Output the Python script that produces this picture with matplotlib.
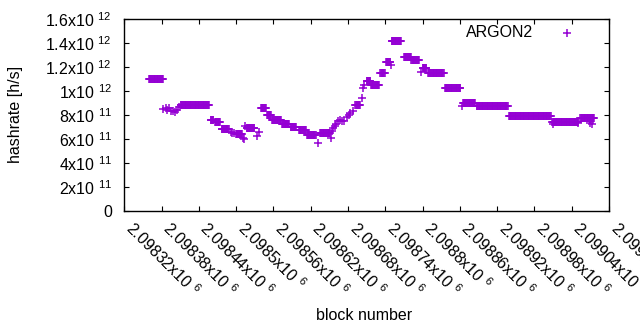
import numpy as np
import matplotlib
matplotlib.use("Agg")
import matplotlib.pyplot as plt
from matplotlib.ticker import FuncFormatter, FixedLocator

plt.rcParams['font.family'] = ['Liberation Sans', 'DejaVu Sans']
plt.rcParams['mathtext.fontset'] = 'custom'
plt.rcParams['mathtext.rm'] = 'Liberation Sans'
plt.rcParams['mathtext.it'] = 'Liberation Sans:italic'
plt.rcParams['mathtext.bf'] = 'Liberation Sans:bold'

# ---- data: runs of blocks with constant hashrate ----
run_start = [2098360, 2098411, 2098459, 2098466, 2098477, 2098500, 2098517, 2098540,
             2098550, 2098558, 2098574, 2098588, 2098601, 2098614, 2098635, 2098692,
             2098710, 2098717, 2098732, 2098741, 2098750, 2098770, 2098782, 2098800,
             2098809, 2098836, 2098865, 2098887, 2098939, 2099009, 2099054]
run_end = [2098382, 2098456, 2098463, 2098474, 2098488, 2098509, 2098529, 2098548,
           2098556, 2098572, 2098585, 2098596, 2098612, 2098628, 2098651, 2098699,
           2098716, 2098730, 2098739, 2098748, 2098765, 2098781, 2098794, 2098806,
           2098834, 2098861, 2098884, 2098937, 2099006, 2099050, 2099076]
run_rate = [1.097e12, 0.880e12, 0.757e12, 0.740e12, 0.678e12, 0.636e12, 0.690e12, 0.861e12,
            0.796e12, 0.753e12, 0.724e12, 0.696e12, 0.672e12, 0.632e12, 0.646e12, 0.885e12,
            1.080e12, 1.049e12, 1.147e12, 1.244e12, 1.419e12, 1.285e12, 1.258e12, 1.190e12,
            1.147e12, 1.020e12, 0.903e12, 0.875e12, 0.788e12, 0.743e12, 0.771e12]

# ---- data: individual scattered blocks ----
stray_block = [2098383, 2098387, 2098389, 2098392, 2098395, 2098398, 2098402, 2098405, 2098408,
               2098491, 2098494, 2098497, 2098511, 2098513, 2098514, 2098534, 2098537,
               2098631, 2098653, 2098655, 2098656, 2098659, 2098660, 2098664, 2098667,
               2098670, 2098674, 2098678, 2098681, 2098684, 2098688, 2098702, 2098704,
               2098706, 2098749, 2098797, 2098864, 2099010, 2099050, 2099069, 2099073]
stray_rate = [0.846e12, 0.855e12, 0.840e12, 0.860e12, 0.830e12, 0.835e12, 0.826e12, 0.840e12, 0.868e12,
              0.660e12, 0.650e12, 0.645e12, 0.610e12, 0.598e12, 0.705e12, 0.626e12, 0.654e12,
              0.568e12, 0.604e12, 0.665e12, 0.688e12, 0.709e12, 0.724e12, 0.745e12, 0.760e12,
              0.750e12, 0.745e12, 0.785e12, 0.800e12, 0.813e12, 0.835e12, 0.943e12, 1.020e12,
              1.049e12, 1.216e12, 1.160e12, 0.870e12, 0.720e12, 0.730e12, 0.730e12, 0.720e12]

series_label = "ARGON2"
x_ticks = list(range(2098320, 2099101, 60))
y_ticks = [0, 2e11, 4e11, 6e11, 8e11, 1e12, 1.2e12, 1.4e12, 1.6e12]
x_label = "block number"
y_label = "hashrate [h/s]"

color = '#9400D3'
fs = 11.5

blocks, rates = [], []
for s, e, r in zip(run_start, run_end, run_rate):
    for b in range(s, e + 1):
        blocks.append(b)
        rates.append(r)
blocks += stray_block
rates += stray_rate

fig = plt.figure(figsize=(6.4, 3.3), dpi=100)
ax = fig.add_axes([124.3 / 640, (330 - 210.7) / 330, (609 - 124.3) / 640, (210.7 - 19) / 330])

ax.plot(blocks, rates, linestyle='none', marker='+', color=color, ms=5.8, mew=1.1)

ax.set_xlim(x_ticks[0], x_ticks[-1])
ax.set_ylim(y_ticks[0], y_ticks[-1])
ax.xaxis.set_major_locator(FixedLocator(x_ticks))
ax.yaxis.set_major_locator(FixedLocator(y_ticks))


def sci(v, pos=None):
    if v == 0:
        return "0"
    e = int(np.floor(np.log10(abs(v)) + 1e-9))
    m = v / 10 ** e
    return "%gx10 $^{%d}$" % (round(m, 6), e)


ax.xaxis.set_major_formatter(FuncFormatter(sci))
ax.yaxis.set_major_formatter(FuncFormatter(sci))

ax.tick_params(direction='in', top=True, right=True, length=3.4, width=0.8,
               labelsize=fs, colors='black')
ax.tick_params(axis='y', pad=9)
ax.tick_params(axis='x', pad=13.5)
for lab in ax.get_xticklabels():
    lab.set_rotation(-45)
    lab.set_ha('left')
    lab.set_va('baseline')
    lab.set_rotation_mode('anchor')
for sp in ax.spines.values():
    sp.set_linewidth(1.0)

fig.text(16 / 640, 1 - 114.85 / 330, y_label, rotation=90, ha='center', va='center', fontsize=fs)
fig.text(364 / 640, 1 - 316 / 330, x_label, ha='center', va='center', fontsize=fs)

ax.text(0.8426, 0.9296, series_label, transform=ax.transAxes, ha='right', va='center', fontsize=fs)
ax.plot([0.914], [0.9254], transform=ax.transAxes, linestyle='none', marker='+',
        color=color, ms=5.8, mew=1.1, clip_on=False)

fig.savefig("out.png", dpi=100)
